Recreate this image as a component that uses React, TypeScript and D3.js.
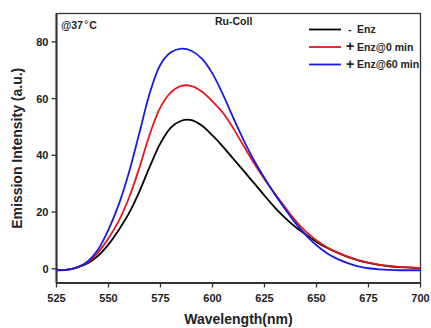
import React from "react";
import * as d3 from "d3";

// wavelengths (nm)
const wavelengths = [
  525, 530, 535, 540, 545, 550, 555, 560, 565, 570, 575, 580, 585, 590, 595,
  600, 605, 610, 615, 620, 625, 630, 635, 640, 645, 650, 655, 660, 665, 670, 675,
  680, 685, 690, 695, 700,
];

const noEnz = [
  -0.3, -0.3, 0.5, 2.0, 4.6, 8.6, 13.8, 19.8, 27.5, 36.3, 44.3, 49.8, 52.2, 52.4, 50.4,
  47.0, 43.1, 38.8, 34.5, 30.2, 25.8, 21.6, 17.9, 14.7, 12.0, 9.5, 7.4, 5.7, 4.2, 3.0, 2.1,
  1.4, 0.9, 0.6, 0.4, 0.3,
];

const enz0 = [
  -0.4, -0.4, 0.5, 2.3, 5.8, 10.8, 17.0, 25.3, 36.0, 47.8, 57.0, 62.2, 64.5, 64.4, 62.4,
  59.0, 55.0, 49.5, 43.3, 37.2, 31.6, 26.5, 21.6, 16.9, 13.0, 10.0, 7.6, 5.8, 4.3, 3.1, 2.2,
  1.5, 1.0, 0.7, 0.5, 0.35,
];

const enz60 = [
  -0.5, -0.4, 0.5, 2.6, 6.8, 13.8, 22.8, 34.4, 48.3, 62.3, 72.0, 76.3, 77.6, 76.8, 74.0,
  68.8, 61.5, 53.2, 45.3, 38.2, 32.0, 26.2, 21.0, 16.0, 11.8, 8.3, 5.5, 3.5, 2.0, 0.9, 0.2,
  -0.2, -0.4, -0.5, -0.5, -0.5,
];

const xTicks = [525, 550, 575, 600, 625, 650, 675, 700];
const yTicks = [0, 20, 40, 60, 80];

const series = [
  { sign: "-", name: "Enz", values: noEnz, color: "#000000" },
  { sign: "+", name: "Enz@0 min", values: enz0, color: "#e8161b" },
  { sign: "+", name: "Enz@60 min", values: enz60, color: "#1a1ae6" },
];

const W = 431;
const H = 328;
const margin = { top: 13.5, right: 10.5, bottom: 45, left: 56.5 };
const font = "Arial, 'Liberation Sans', sans-serif";

export default function App() {
  const x = d3
    .scaleLinear()
    .domain([525, 700])
    .range([margin.left, W - margin.right]);
  const y = d3
    .scaleLinear()
    .domain([-5, 90])
    .range([H - margin.bottom, margin.top]);

  const line = d3
    .line<number>()
    .x((_, i) => x(wavelengths[i]))
    .y((d) => y(d))
    .curve(d3.curveCatmullRom.alpha(0.5));

  const x0 = x.range()[0];
  const x1 = x.range()[1];
  const yBottom = y.range()[0];
  const yTop = y.range()[1];

  return (
    <svg
      width={W}
      height={H}
      style={{ position: "absolute", left: 0, top: 0, background: "#fff" }}
      fontFamily={font}
    >
      {/* frame */}
      <rect
        x={x0}
        y={yTop}
        width={x1 - x0}
        height={yBottom - yTop}
        fill="none"
        stroke="#333"
        strokeWidth={1.3}
      />
      <line x1={x0} x2={x0} y1={yTop} y2={yBottom} stroke="#333" strokeWidth={2} />
      <line x1={x0} x2={x1} y1={yBottom} y2={yBottom} stroke="#333" strokeWidth={2} />

      {/* curves */}
      {series.map((s) => (
        <path
          key={s.name}
          d={line(s.values) ?? ""}
          fill="none"
          stroke={s.color}
          strokeWidth={1.8}
          strokeLinejoin="round"
        />
      ))}

      {/* x axis */}
      {xTicks.map((t) => (
        <g key={t}>
          <line x1={x(t)} x2={x(t)} y1={yBottom} y2={yBottom + 4.5} stroke="#333" strokeWidth={1.3} />
          <text
            x={x(t)}
            y={yBottom + 19}
            textAnchor="middle"
            fontSize={11}
            fontWeight="bold"
            fill="#222"
          >
            {t}
          </text>
        </g>
      ))}

      {/* y axis */}
      {yTicks.map((t) => (
        <g key={t}>
          <line x1={x0 - 5} x2={x0} y1={y(t)} y2={y(t)} stroke="#333" strokeWidth={1.3} />
          <text
            x={x0 - 8}
            y={y(t)}
            dy="0.36em"
            textAnchor="end"
            fontSize={11}
            fontWeight="bold"
            fill="#222"
          >
            {t}
          </text>
        </g>
      ))}

      <text
        x={(x0 + x1) / 2}
        y={H - 4}
        textAnchor="middle"
        fontSize={14}
        fontWeight="bold"
        fill="#222"
      >
        Wavelength(nm)
      </text>
      <text
        transform={`translate(22,${(yTop + yBottom) / 2}) rotate(-90)`}
        textAnchor="middle"
        fontSize={14}
        fontWeight="bold"
        fill="#222"
      >
        Emission Intensity (a.u.)
      </text>

      {/* annotations */}
      <text x={61} y={29} fontSize={10.5} fontWeight="bold" fill="#222">
        @37
        <tspan dx={1} dy={-1} fontWeight="normal" fontSize={11}>°</tspan>
        <tspan dx={1} dy={1}>C</tspan>
      </text>
      <text x={215} y={25} fontSize={10.5} fontWeight="bold" fill="#222">
        Ru-Coll
      </text>

      {/* legend */}
      {series.map((s, i) => {
        const ly = 29.5 + i * 17.5;
        return (
          <g key={s.name}>
            <line x1={309} x2={341} y1={ly} y2={ly} stroke={s.color} strokeWidth={1.8} />
            <text
              x={s.sign === "-" ? 348 : 346}
              y={ly}
              dy="0.3em"
              fontSize={s.sign === "-" ? 11 : 14}
              fontWeight="bold"
              fill="#222"
            >
              {s.sign}
            </text>
            <text
              x={357}
              y={ly}
              dy="0.38em"
              fontSize={10.5}
              fontWeight="bold"
              fill="#222"
            >
              {s.name}
            </text>
          </g>
        );
      })}
    </svg>
  );
}
